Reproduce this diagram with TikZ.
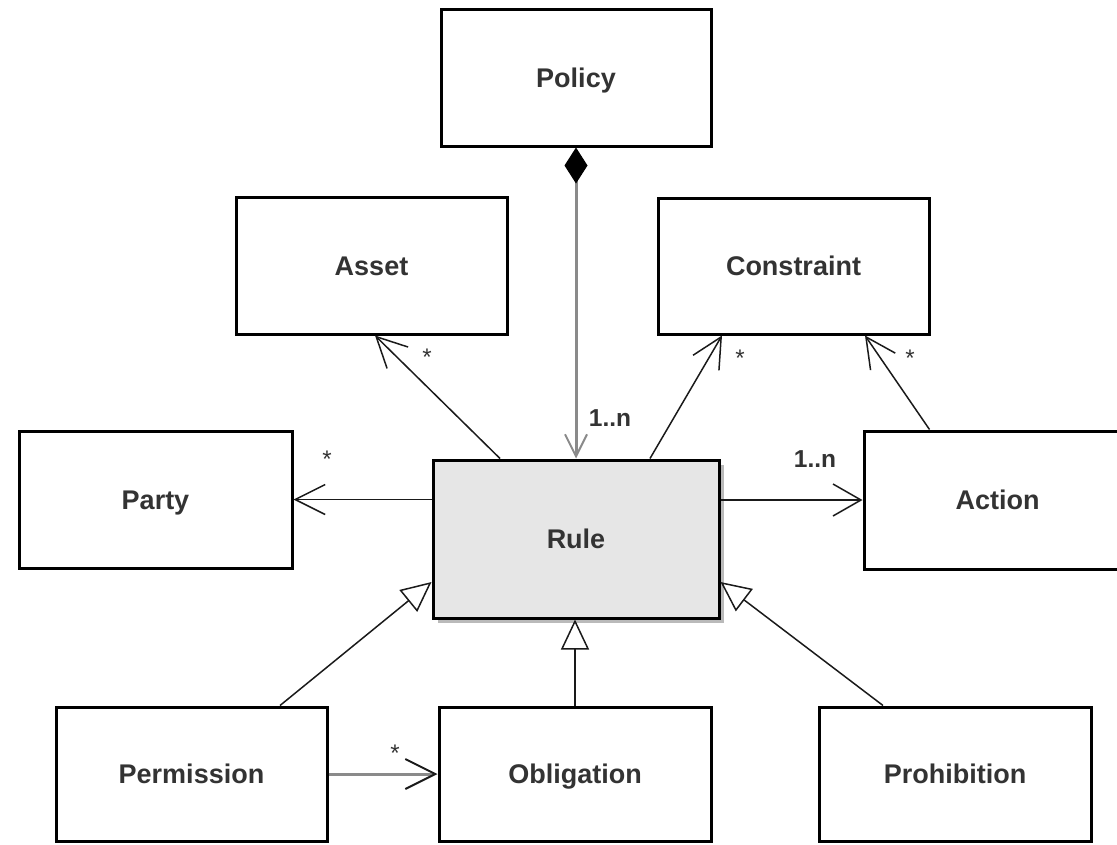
\documentclass[tikz,border=0pt]{standalone}
\usepackage{fontspec}
\setmainfont{Liberation Sans}
\usetikzlibrary{arrows.meta,shadows}

\definecolor{textgray}{HTML}{333333}
\definecolor{rulefill}{HTML}{E6E6E6}
\definecolor{linkgray}{HTML}{8A8A8A}
\definecolor{linkdark}{HTML}{1A1A1A}

\begin{document}
\begin{tikzpicture}[x=1pt,y=-1pt,
  classbox/.style={draw=black, line width=3pt, fill=white, inner sep=0pt,
    text=textgray, font=\fontsize{27}{32}\selectfont\bfseries,
    text height=19.3pt, text depth=0pt, align=center},
  link/.style={draw=linkdark, line width=1.5pt},
  heavylink/.style={draw=linkgray, line width=3pt},
  openhead/.style={-{Straight Barb[length=30pt,width=30pt,line width=1.5pt]}},
  generalize/.style={-{Triangle[length=30pt,width=28pt,fill=white,line width=1.5pt]}},
  mult/.style={font=\fontsize{24.5}{29}\selectfont\bfseries, text=textgray,
    text height=17.5pt, text depth=0pt, inner sep=0pt},
  star/.style={font=\fontsize{24}{28}\selectfont, text=textgray,
    anchor=base, inner sep=0pt},
]
\useasboundingbox (0,0) rectangle (1117,844);
\clip (0,0) rectangle (1117,844);

% classes
\node[classbox, minimum width=270pt, minimum height=137pt] (policy) at (576,77.5) {Policy};
\node[classbox, minimum width=271pt, minimum height=137pt] (asset) at (371.5,265.5) {Asset};
\node[classbox, minimum width=271pt, minimum height=136pt] (constraint) at (793.5,266) {Constraint};
\node[classbox, minimum width=273pt, minimum height=137pt] (party) at (155.5,499.5) {Party};
\node[classbox, minimum width=267pt, minimum height=138pt] (action) at (997.5,500) {Action};
\node[classbox, fill=rulefill, minimum width=286pt, minimum height=158pt,
      drop shadow={shadow xshift=5pt, shadow yshift=-5pt, fill=black!27, opacity=1}]
      (rule) at (576,539) {Rule};
\node[classbox, minimum width=271pt, minimum height=134pt] (permission) at (191.5,774) {Permission};
\node[classbox, minimum width=272pt, minimum height=134pt] (obligation) at (575,774) {Obligation};
\node[classbox, minimum width=272pt, minimum height=134pt] (prohibition) at (955,774) {Prohibition};

% composition: policy owns its rules
\draw[heavylink, {Diamond[length=36pt,width=23pt,color=black,line width=1pt]}-{Straight Barb[length=22pt,width=22pt,line width=2pt]}]
  (policy.south) -- (rule.north);
\node[mult] (m1) at (610,418) {1..n};

% associations from Rule
\draw[link, openhead] ([xshift=-76pt]rule.north) -- ([xshift=3.5pt]asset.south);
\draw[link, openhead] ([xshift=74pt]rule.north) -- ([xshift=-71.5pt]constraint.south);
\draw[link, openhead] (action.north) ++(-68,0) coordinate (actop) (actop) -- ([xshift=71.5pt]constraint.south);
\draw[link, openhead] (party.east -| rule.west) -- (party.east);
\draw[link, -{Straight Barb[length=28pt,width=32pt,line width=1.5pt]}] (action.west -| rule.east) -- (action.west);
\node[mult] (m2) at (815,459) {1..n};

% generalizations
\draw[link, generalize] ([xshift=88.5pt]permission.north) -- ([yshift=-43pt]rule.west);
\draw[link, generalize] (obligation.north) -- (obligation.north |- rule.south);
\draw[link, generalize] ([xshift=-72pt]prohibition.north) -- ([yshift=-43pt]rule.east);

% permission to obligation
\draw[heavylink, -{Straight Barb[length=30pt,width=30pt,line width=2pt,color=linkdark]}]
  (permission.east) -- (obligation.west);

% multiplicities
\node[star] (s1) at (427,365) {*};
\node[star] (s2) at (327,467) {*};
\node[star] (s3) at (740,366) {*};
\node[star] (s4) at (910,366) {*};
\node[star] (s5) at (395,761) {*};
\end{tikzpicture}
\end{document}
